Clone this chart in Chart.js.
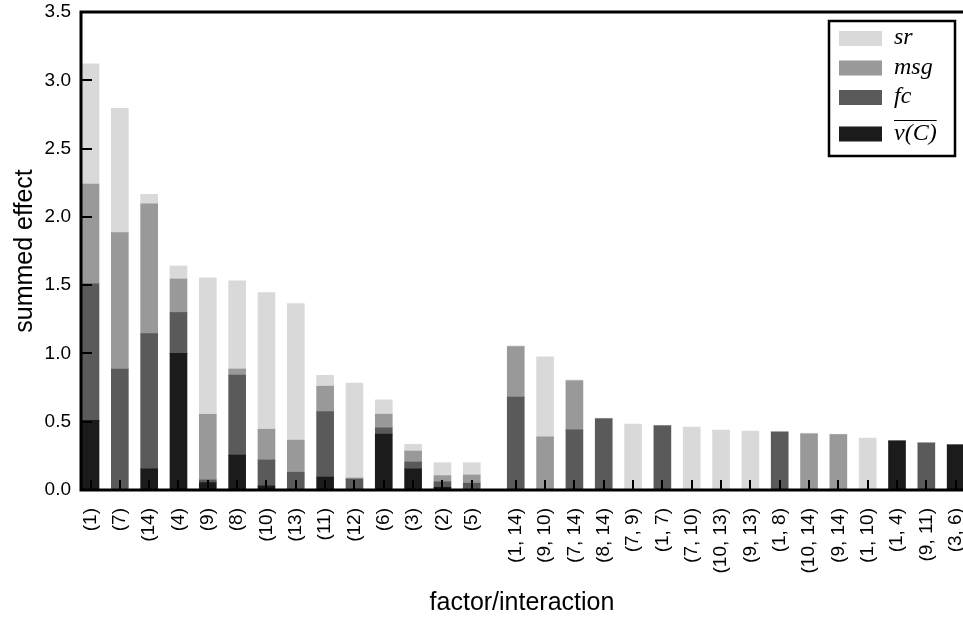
<!DOCTYPE html>
<html>
<head>
<meta charset="utf-8">
<script src="https://cdn.jsdelivr.net/npm/chart.js@4.4.1/dist/chart.umd.min.js"></script>
<style>
  html, body { margin: 0; padding: 0; background: #fff; overflow: hidden; }
  canvas { display: block; }
</style>
</head>
<body>
<canvas id="summedChart" width="963" height="618"></canvas>
<script>
// Single factors first, then the two-factor interactions after a short gap
const mainEffects = ['(1)', '(7)', '(14)', '(4)', '(9)', '(8)', '(10)', '(13)', '(11)', '(12)', '(6)', '(3)', '(2)', '(5)'];
const interactions = ['(1, 14)', '(9, 10)', '(7, 14)', '(8, 14)', '(7, 9)', '(1, 7)', '(7, 10)', '(10, 13)', '(9, 13)',
  '(1, 8)', '(10, 14)', '(9, 14)', '(1, 10)', '(1, 4)', '(9, 11)', '(3, 6)'];

// Effect of each factor on the four measures (stacked bottom to top)
const vcValues = [0.51, 0.005, 0.155, 1.0, 0.054, 0.256, 0.03, 0, 0.095, 0, 0.41, 0.155, 0.02, 0,
  0, 0, 0, 0, 0, 0, 0, 0, 0, 0, 0, 0, 0, 0.359, 0, 0.33];
const fcValues = [1.0, 0.88, 0.99, 0.30, 0.02, 0.585, 0.19, 0.13, 0.48, 0.08, 0.045, 0.05, 0.04, 0.05,
  0.68, 0, 0.44, 0.522, 0, 0.47, 0, 0, 0, 0.425, 0, 0, 0, 0, 0.344, 0];
const msgValues = [0.73, 1.0, 0.95, 0.245, 0.48, 0.045, 0.225, 0.235, 0.185, 0.008, 0.10, 0.08, 0.045, 0.06,
  0.37, 0.39, 0.36, 0, 0, 0, 0, 0, 0, 0, 0.412, 0.405, 0, 0, 0, 0];
const srValues = [0.88, 0.91, 0.07, 0.095, 1.0, 0.645, 1.0, 1.0, 0.08, 0.695, 0.105, 0.05, 0.095, 0.09,
  0.005, 0.585, 0.005, 0.004, 0.483, 0.004, 0.461, 0.439, 0.432, 0.004, 0.004, 0.004, 0.381, 0.004, 0.004, 0.004];

const seriesNames = ['v(C)', 'fc', 'msg', 'sr'];
const seriesColors = ['#1b1b1b', '#5a5a5a', '#999999', '#d9d9d9'];
const overlined = ['v(C)'];

const yTicks = [0, 0.5, 1.0, 1.5, 2.0, 2.5, 3.0, 3.5];

const allLabels = mainEffects.concat(interactions);
// interactions start half a slot further right
const positions = allLabels.map((l, i) => i < mainEffects.length ? i : i + 0.5);

function toPoints(values) {
  return values.map((v, i) => ({ x: positions[i], y: v }));
}

// Frame, inward tick marks and the boxed legend
const framePlugin = {
  id: 'frame',
  afterDatasetsDraw(chart) {
    const { ctx, chartArea: a, scales: { x, y } } = chart;
    ctx.save();
    ctx.strokeStyle = '#000';
    ctx.lineWidth = 2;
    ctx.beginPath();
    positions.forEach(p => {
      const px = Math.round(x.getPixelForValue(p));
      ctx.moveTo(px, a.bottom);
      ctx.lineTo(px, a.bottom - 10);
    });
    yTicks.forEach(t => {
      const py = Math.round(y.getPixelForValue(t));
      ctx.moveTo(a.left, py);
      ctx.lineTo(a.left + 11, py);
    });
    ctx.stroke();

    ctx.lineWidth = 3;
    ctx.beginPath();
    ctx.moveTo(a.right + 2, a.top);
    ctx.lineTo(a.left, a.top);
    ctx.lineTo(a.left, a.bottom);
    ctx.lineTo(a.right + 2, a.bottom);
    ctx.stroke();

    // legend, top series first
    const boxX = 829, boxY = 21, boxW = 126, boxH = 135;
    ctx.fillStyle = '#fff';
    ctx.fillRect(boxX, boxY, boxW, boxH);
    ctx.lineWidth = 2.5;
    ctx.strokeRect(boxX, boxY, boxW, boxH);
    ctx.font = 'italic 24px "Liberation Serif", "DejaVu Serif", serif';
    ctx.textBaseline = 'middle';
    ctx.textAlign = 'left';
    let rowY = 31;
    chart.data.datasets.slice().reverse().forEach(ds => {
      const isOver = overlined.includes(ds.label);
      if (isOver) rowY += 7;
      ctx.fillStyle = ds.backgroundColor;
      ctx.fillRect(839, rowY, 43, 15);
      ctx.fillStyle = '#000';
      const ty = rowY + 7;
      ctx.fillText(ds.label, 894, ty);
      if (isOver) {
        const w = ctx.measureText(ds.label).width;
        ctx.lineWidth = 1.2;
        ctx.beginPath();
        ctx.moveTo(894, ty - 13);
        ctx.lineTo(894 + w, ty - 13);
        ctx.stroke();
      }
      rowY += 29.5;
    });
    ctx.restore();
  }
};

const ctx = document.getElementById('summedChart').getContext('2d');
const chart = new Chart(ctx, {
  type: 'bar',
  data: {
    datasets: [
      { label: seriesNames[0], data: toPoints(vcValues), backgroundColor: seriesColors[0] },
      { label: seriesNames[1], data: toPoints(fcValues), backgroundColor: seriesColors[1] },
      { label: seriesNames[2], data: toPoints(msgValues), backgroundColor: seriesColors[2] },
      { label: seriesNames[3], data: toPoints(srValues), backgroundColor: seriesColors[3] },
    ],
  },
  options: {
    responsive: false,
    animation: false,
    events: [],
    barThickness: 17,
    layout: { padding: { top: 12, right: 0, left: 0, bottom: 0 } },
    plugins: {
      legend: { display: false },
      tooltip: { enabled: false },
    },
    scales: {
      x: {
        type: 'linear',
        stacked: true,
        offset: false,
        min: -0.324,
        max: 29.75,
        afterBuildTicks: s => { s.ticks = positions.map(v => ({ value: v })); },
        afterFit: s => { s.height = 128; s.paddingLeft = 0; s.paddingRight = 0; },
        grid: { display: false, drawTicks: false },
        border: { display: false },
        ticks: {
          autoSkip: false,
          minRotation: 90,
          maxRotation: 90,
          padding: 18,
          color: '#000',
          font: { family: '"Liberation Sans", Arial, sans-serif', size: 19 },
          callback: (v, i) => allLabels[i],
        },
        title: {
          display: true,
          text: 'factor/interaction',
          color: '#000',
          font: { family: '"Liberation Sans", Arial, sans-serif', size: 25 },
          padding: { top: 3, bottom: 0 },
        },
      },
      y: {
        stacked: true,
        min: 0,
        max: 3.5,
        afterBuildTicks: s => { s.ticks = yTicks.map(v => ({ value: v })); },
        afterFit: s => { s.width = 81; s.paddingTop = 0; s.paddingBottom = 0; },
        grid: { display: false, drawTicks: false },
        border: { display: false },
        ticks: {
          padding: 10,
          color: '#000',
          font: { family: '"Liberation Sans", Arial, sans-serif', size: 19 },
          callback: v => v.toFixed(1),
        },
        title: {
          display: true,
          text: 'summed effect',
          color: '#000',
          font: { family: '"Liberation Sans", Arial, sans-serif', size: 25 },
          padding: { top: 10, bottom: 0 },
        },
      },
    },
  },
  plugins: [framePlugin],
});
</script>
</body>
</html>
